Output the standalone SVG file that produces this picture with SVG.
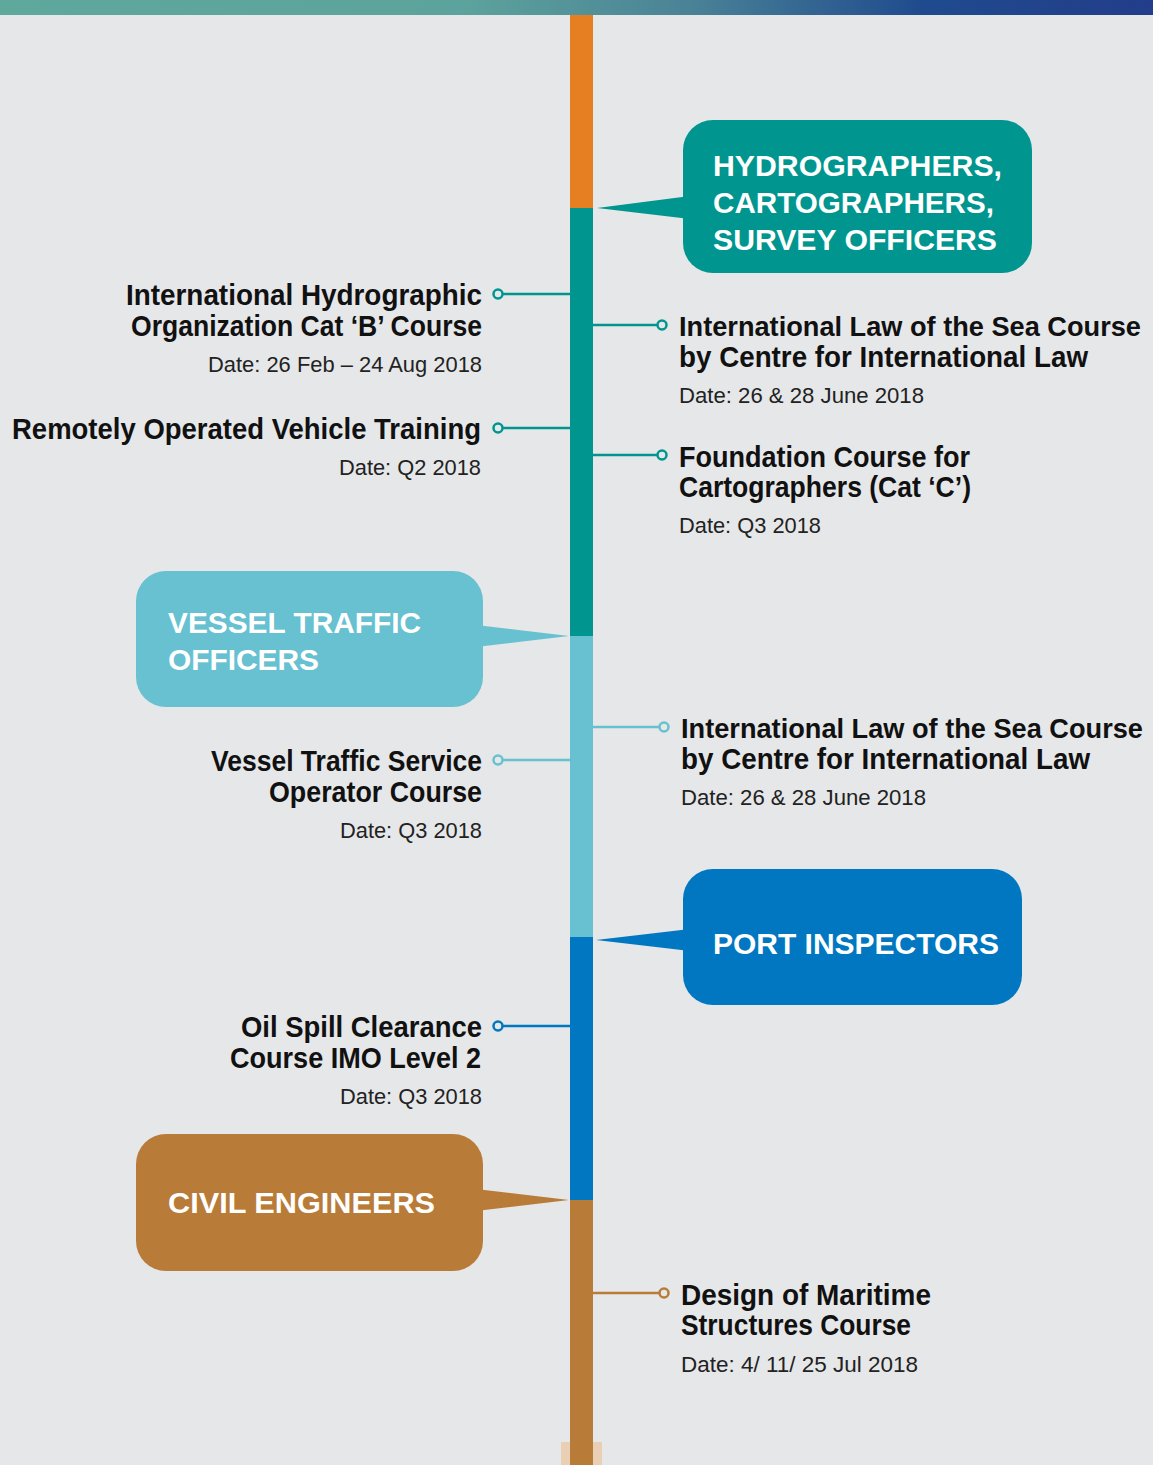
<svg xmlns="http://www.w3.org/2000/svg" width="1153" height="1465" viewBox="0 0 1153 1465">
<defs>
<linearGradient id="topg" x1="0" y1="0" x2="1" y2="0">
<stop offset="0" stop-color="#5FA89C"/>
<stop offset="0.4" stop-color="#5DA39D"/>
<stop offset="0.6" stop-color="#4A8296"/>
<stop offset="0.8" stop-color="#1F4B8E"/>
<stop offset="1" stop-color="#233D8A"/>
</linearGradient>
<style>
.t{font-family:"Liberation Sans Narrow","Liberation Sans",Arial,sans-serif;font-weight:bold;font-size:30px;fill:#111}
.tw{font-size:27px}
.d{font-family:"Liberation Sans Narrow","Liberation Sans",Arial,sans-serif;font-size:22px;fill:#222}
.h{font-family:"Liberation Sans","Open Sans",sans-serif;font-weight:bold;font-size:29px;fill:#fff}
.r{text-anchor:end}
.c{fill:#E6E7E9;stroke-width:2.5}
.l{stroke-width:2.5;fill:none}
</style>
</defs>
<rect width="1153" height="1465" fill="#E6E7E9"/>
<rect width="1153" height="15" fill="url(#topg)"/>
<g id="spine">
<rect x="561" y="1442" width="41" height="23" fill="#E9CFB3"/>
<rect x="570" y="15" width="23" height="193" fill="#E67E22"/>
<rect x="570" y="208" width="23" height="428" fill="#00968F"/>
<rect x="570" y="636" width="23" height="301" fill="#67C1D0"/>
<rect x="570" y="937" width="23" height="263" fill="#0077C0"/>
<rect x="570" y="1200" width="23" height="265" fill="#B97B38"/>
</g>
<g id="connectors">
<line class="l" x1="503" y1="294" x2="570" y2="294" stroke="#00968F"/>
<circle class="c" cx="498" cy="294" r="4.5" stroke="#00968F"/>
<line class="l" x1="503" y1="428" x2="570" y2="428" stroke="#00968F"/>
<circle class="c" cx="498" cy="428" r="4.5" stroke="#00968F"/>
<line class="l" x1="593" y1="325" x2="657" y2="325" stroke="#00968F"/>
<circle class="c" cx="662" cy="325" r="4.5" stroke="#00968F"/>
<line class="l" x1="593" y1="455" x2="657" y2="455" stroke="#00968F"/>
<circle class="c" cx="662" cy="455" r="4.5" stroke="#00968F"/>
<line class="l" x1="593" y1="727" x2="659" y2="727" stroke="#67C1D0"/>
<circle class="c" cx="664" cy="727" r="4.5" stroke="#67C1D0"/>
<line class="l" x1="503" y1="760" x2="570" y2="760" stroke="#67C1D0"/>
<circle class="c" cx="498" cy="760" r="4.5" stroke="#67C1D0"/>
<line class="l" x1="503" y1="1026" x2="570" y2="1026" stroke="#0077C0"/>
<circle class="c" cx="498" cy="1026" r="4.5" stroke="#0077C0"/>
<line class="l" x1="593" y1="1293" x2="659" y2="1293" stroke="#B97B38"/>
<circle class="c" cx="664" cy="1293" r="4.5" stroke="#B97B38"/>
</g>
<g id="callout-hydrographers">
<rect x="683" y="120" width="349" height="153" rx="30" fill="#00968F"/>
<polygon points="690,196 690,219 597,208" fill="#00968F"/>
<text class="h" x="713" y="176" textLength="289" lengthAdjust="spacingAndGlyphs">HYDROGRAPHERS,</text>
<text class="h" x="713" y="213" textLength="281" lengthAdjust="spacingAndGlyphs">CARTOGRAPHERS,</text>
<text class="h" x="713" y="250" textLength="284" lengthAdjust="spacingAndGlyphs">SURVEY OFFICERS</text>
</g>
<g id="callout-vessel">
<rect x="136" y="571" width="347" height="136" rx="30" fill="#67C1D0"/>
<polygon points="476,625 476,647 569,636" fill="#67C1D0"/>
<text class="h" x="168" y="633" textLength="253" lengthAdjust="spacingAndGlyphs">VESSEL TRAFFIC</text>
<text class="h" x="168" y="670" textLength="151" lengthAdjust="spacingAndGlyphs">OFFICERS</text>
</g>
<g id="callout-port">
<rect x="683" y="869" width="339" height="136" rx="30" fill="#0077C0"/>
<polygon points="690,929 690,951 596,940" fill="#0077C0"/>
<text class="h" x="713" y="954" textLength="286" lengthAdjust="spacingAndGlyphs">PORT INSPECTORS</text>
</g>
<g id="callout-civil">
<rect x="136" y="1134" width="347" height="137" rx="30" fill="#B97B38"/>
<polygon points="476,1189 476,1211 569,1200" fill="#B97B38"/>
<text class="h" x="168" y="1213" textLength="267" lengthAdjust="spacingAndGlyphs">CIVIL ENGINEERS</text>
</g>
<g id="item-iho">
<text class="t r" x="482" y="305" textLength="356" lengthAdjust="spacingAndGlyphs">International Hydrographic</text>
<text class="t r" x="482" y="336" textLength="351" lengthAdjust="spacingAndGlyphs">Organization Cat ‘B’ Course</text>
<text class="d r" x="482" y="372" textLength="274" lengthAdjust="spacingAndGlyphs">Date: 26 Feb – 24 Aug 2018</text>
</g>
<g id="item-rov">
<text class="t r" x="481" y="439" textLength="469" lengthAdjust="spacingAndGlyphs">Remotely Operated Vehicle Training</text>
<text class="d r" x="481" y="475" textLength="142" lengthAdjust="spacingAndGlyphs">Date: Q2 2018</text>
</g>
<g id="item-law1">
<text class="t tw" x="679" y="336" textLength="462" lengthAdjust="spacingAndGlyphs">International Law of the Sea Course</text>
<text class="t" x="679" y="367" textLength="409" lengthAdjust="spacingAndGlyphs">by Centre for International Law</text>
<text class="d" x="679" y="403" textLength="245" lengthAdjust="spacingAndGlyphs">Date: 26 &amp; 28 June 2018</text>
</g>
<g id="item-foundation">
<text class="t" x="679" y="467" textLength="291" lengthAdjust="spacingAndGlyphs">Foundation Course for</text>
<text class="t" x="679" y="497" textLength="292" lengthAdjust="spacingAndGlyphs">Cartographers (Cat ‘C’)</text>
<text class="d" x="679" y="533" textLength="142" lengthAdjust="spacingAndGlyphs">Date: Q3 2018</text>
</g>
<g id="item-law2">
<text class="t tw" x="681" y="738" textLength="462" lengthAdjust="spacingAndGlyphs">International Law of the Sea Course</text>
<text class="t" x="681" y="769" textLength="409" lengthAdjust="spacingAndGlyphs">by Centre for International Law</text>
<text class="d" x="681" y="805" textLength="245" lengthAdjust="spacingAndGlyphs">Date: 26 &amp; 28 June 2018</text>
</g>
<g id="item-vts">
<text class="t r" x="482" y="771" textLength="271" lengthAdjust="spacingAndGlyphs">Vessel Traffic Service</text>
<text class="t r" x="482" y="802" textLength="213" lengthAdjust="spacingAndGlyphs">Operator Course</text>
<text class="d r" x="482" y="838" textLength="142" lengthAdjust="spacingAndGlyphs">Date: Q3 2018</text>
</g>
<g id="item-oil">
<text class="t r" x="482" y="1037" textLength="241" lengthAdjust="spacingAndGlyphs">Oil Spill Clearance</text>
<text class="t r" x="481" y="1068" textLength="251" lengthAdjust="spacingAndGlyphs">Course IMO Level 2</text>
<text class="d r" x="482" y="1104" textLength="142" lengthAdjust="spacingAndGlyphs">Date: Q3 2018</text>
</g>
<g id="item-design">
<text class="t" x="681" y="1305" textLength="250" lengthAdjust="spacingAndGlyphs">Design of Maritime</text>
<text class="t" x="681" y="1335" textLength="230" lengthAdjust="spacingAndGlyphs">Structures Course</text>
<text class="d" x="681" y="1372" textLength="237" lengthAdjust="spacingAndGlyphs">Date: 4/ 11/ 25 Jul 2018</text>
</g>
</svg>
